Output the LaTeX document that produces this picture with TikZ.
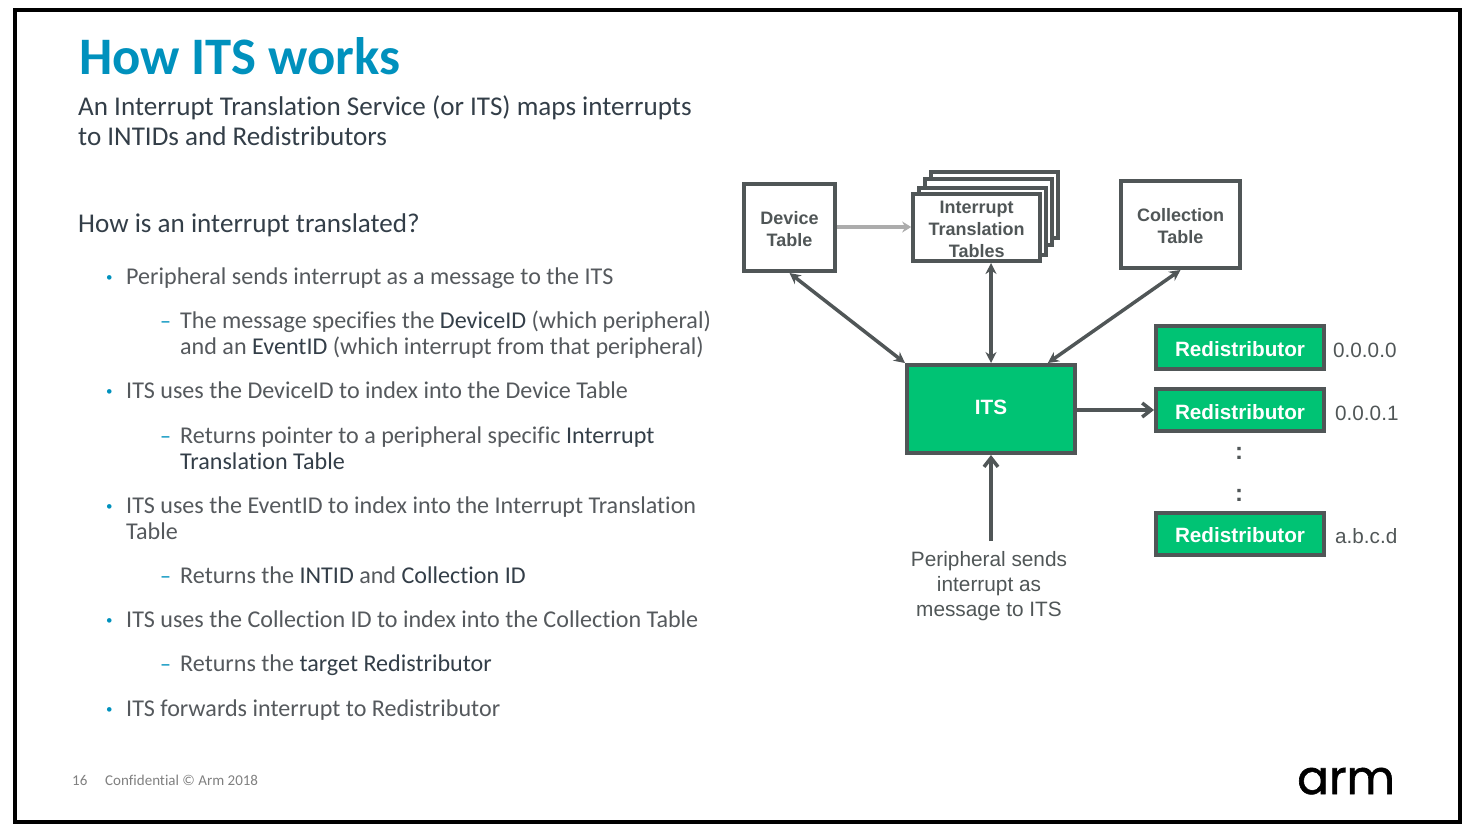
\documentclass[tikz,border=0pt]{standalone}
\usepackage{fontspec}
\usetikzlibrary{arrows.meta,calc}
\setmainfont{Carlito}[Ligatures=NoCommon]
\newfontfamily\diagfont{Liberation Sans}
\newfontfamily\logofont{Poppins}[FakeBold=1.3]
\definecolor{armblue}{HTML}{0091BD}
\definecolor{armgreen}{HTML}{00C374}
\definecolor{armgrey}{HTML}{505657}
\definecolor{bodygrey}{HTML}{55595D}
\definecolor{darkgrey}{HTML}{333E48}
\newcommand{\dk}[1]{\textcolor{darkgrey}{#1}}
\tikzset{
  x=1pt,y=-1pt,
  txt/.style={anchor=base west,inner sep=0pt,text=bodygrey,font=\fontsize{24.1}{28}\selectfont},
  head/.style={txt,text=darkgrey,font=\fontsize{27.1}{30}\selectfont},
  listmark/.style={anchor=base west,inner sep=0pt,text=armblue,font=\fontsize{22}{26}\selectfont},
  dotmark/.style={listmark,font=\fontsize{13}{16}\selectfont},
  foot/.style={anchor=base west,inner sep=0pt,text=gray,font=\fontsize{15}{18}\selectfont},
  tbl/.style={draw=armgrey,line width=4pt,fill=white},
  tbltext/.style={anchor=center,text=armgrey,align=center,inner sep=0pt,
    font=\diagfont\bfseries\fontsize{18}{22}\selectfont},
  greenbox/.style={draw=armgrey,line width=4pt,fill=armgreen,text=white,inner sep=0pt,
    font=\diagfont\bfseries\fontsize{20.7}{24}\selectfont},
  redist/.style={greenbox,minimum width=168pt,minimum height=42pt,text height=18.5pt,text depth=0pt},
  addr/.style={anchor=base west,inner sep=0pt,text=armgrey,font=\diagfont\fontsize{20.7}{25}\selectfont},
  link/.style={draw=armgrey,line width=3.5pt,{Stealth[length=11pt,width=11pt]}-{Stealth[length=11pt,width=11pt]}},
  send/.style={draw=armgrey,line width=3.5pt,-{Straight Barb[length=9pt,width=14pt]}},
}
\begin{document}
\begin{tikzpicture}
\useasboundingbox (0,0) rectangle (1471,836);
% cadre
\draw [line width=4pt] (15,10) rectangle (1460,822);
% titre
\node (title) at (79,74) [anchor=base west,inner sep=0pt,text=armblue,font=\bfseries\fontsize{52.7}{56}\selectfont] {How ITS works};
\node (sub1) at (78,115) [head] {An Interrupt Translation Service (or ITS) maps interrupts};
\node (sub2) at (78,145) [head] {to INTIDs and Redistributors};
\node (quest) at (78,232) [head] {How is an interrupt translated?};
% texte
\node (m1) at (106,281) [dotmark] {•};
\node (t1) at (126,284) [txt] {Peripheral sends interrupt as a message to the ITS};
\node (d1) at (160,328) [listmark] {–};
\node (t1a) at (180,328) [txt] {The message specifies the \dk{DeviceID} (which peripheral)};
\node (t1b) at (180,354) [txt] {and an \dk{EventID} (which interrupt from that peripheral)};
\node (m2) at (106,395) [dotmark] {•};
\node (t2) at (126,398) [txt] {ITS uses the DeviceID to index into the Device Table};
\node (d2) at (160,443) [listmark] {–};
\node (t2a) at (180,443) [txt] {Returns pointer to a peripheral specific \dk{Interrupt}};
\node (t2b) at (180,469) [txt] {\dk{Translation Table}};
\node (m3) at (106,510) [dotmark] {•};
\node (t3) at (126,513) [txt] {ITS uses the EventID to index into the Interrupt Translation};
\node (t3b) at (126,539) [txt] {Table};
\node (d3) at (160,583) [listmark] {–};
\node (t3a) at (180,583) [txt] {Returns the \dk{INTID} and \dk{Collection ID}};
\node (m4) at (106,624) [dotmark] {•};
\node (t4) at (126,627) [txt] {ITS uses the Collection ID to index into the Collection Table};
\node (d4) at (160,671) [listmark] {–};
\node (t4a) at (180,671) [txt] {Returns the \dk{target Redistributor}};
\node (m5) at (106,713) [dotmark] {•};
\node (t5) at (126,716) [txt] {ITS forwards interrupt to Redistributor};
% bas de page
\node (page) at (72,785) [foot] {16};
\node (conf) at (105,785) [foot] {Confidential © Arm 2018};
\node (logo) at (1297,794) [anchor=base west,inner sep=0pt,font=\logofont\fontsize{47}{50}\selectfont] {arm};
% tables
\node (device) at (789.5,227.5) [tbl,minimum width=91pt,minimum height=87pt] {};
\node (back3) at (994,205) [tbl,minimum width=127pt,minimum height=66pt] {};
\node (back2) at (988.5,212.3) [tbl,minimum width=127pt,minimum height=66pt] {};
\node (back1) at (982.4,221) [tbl,minimum width=127pt,minimum height=67pt] {};
\node (itt) at (976.7,227.5) [tbl,minimum width=127pt,minimum height=67pt] {};
\node (coll) at (1180.5,224.5) [tbl,minimum width=119pt,minimum height=87pt] {};
\node (devicetxt) at (789.5,228.8) [tbltext] {Device\\Table};
\node (itttxt) at (976.7,229.5) [tbltext] {Interrupt\\Translation\\Tables};
\node (colltxt) at (1180.5,226.5) [tbltext] {Collection\\Table};
% ITS et redistributeurs
\node (its) at (991,409) [greenbox,minimum width=168pt,minimum height=88pt,text depth=4pt] {ITS};
\node (red1) at (1240,347.5) [redist,minimum height=43pt] {Redistributor};
\node (red2) at (1240,410) [redist] {Redistributor};
\node (red3) at (1240,534) [redist,text height=17pt] {Redistributor};
\node (addr1) at (1333,357) [addr] {0.0.0.0};
\node (addr2) at (1335,420) [addr] {0.0.0.1};
\node (addr3) at (1335,543) [addr] {a.b.c.d};
\node (dots1) at (1239,459) [anchor=base,inner sep=0pt,text=armgrey,font=\diagfont\bfseries\fontsize{24}{26}\selectfont] {:};
\node (dots2) at (1239,501) [anchor=base,inner sep=0pt,text=armgrey,font=\diagfont\bfseries\fontsize{24}{26}\selectfont] {:};
\node (periph) at (989,586) [anchor=center,align=center,inner xsep=0pt,inner ysep=10pt,text=armgrey,font=\diagfont\fontsize{20.8}{25}\selectfont] {Peripheral sends\\interrupt as\\message to ITS};
% fleches
\draw [line width=3.5pt,color=gray!65,-{Stealth[length=9pt,width=11pt]}] (device.east |- 0,227) -- (itt.west |- 0,227);
\draw [link] (device.south) -- (its.north west);
\draw [link] (itt.south -| its.north) -- (its.north);
\draw [link] (coll.south) -- (its.39);
\draw [send] (its.east |- red2.west) -- (red2.west);
\draw [send] (its.south |- periph.north) -- (its.south);
\end{tikzpicture}
\end{document}
